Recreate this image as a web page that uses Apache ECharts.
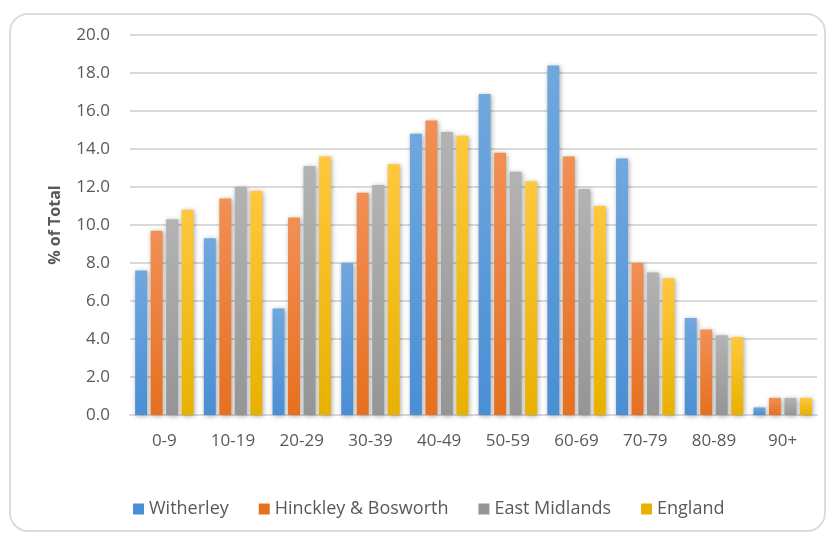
<!DOCTYPE html>
<html>
<head>
<meta charset="utf-8">
<style>
  html, body { margin: 0; padding: 0; background: #ffffff; }
  #chart { width: 826px; height: 533px; }
</style>
<script src="https://cdn.jsdelivr.net/npm/echarts@6/dist/echarts.min.js"></script>
</head>
<body>
<div id="chart"></div>
<script>
// Age bands and share of population (%) in each area
const ageBands = ['0-9', '10-19', '20-29', '30-39', '40-49', '50-59', '60-69', '70-79', '80-89', '90+'];
const witherley = [7.6, 9.3, 5.6, 8.0, 14.8, 16.9, 18.4, 13.5, 5.1, 0.4];
const hinckley = [9.7, 11.4, 10.4, 11.7, 15.5, 13.8, 13.6, 8.0, 4.5, 0.9];
const eastMidlands = [10.3, 12.0, 13.1, 12.1, 14.9, 12.8, 11.9, 7.5, 4.2, 0.9];
const england = [10.8, 11.8, 13.6, 13.2, 14.7, 12.3, 11.0, 7.2, 4.1, 0.9];

const seriesNames = ['Witherley', 'Hinckley & Bosworth', 'East Midlands', 'England'];
const seriesData = [witherley, hinckley, eastMidlands, england];
// top / bottom colours of each bar's vertical gradient
const palette = [
  ['#70A8DE', '#4A8ED5'],
  ['#F28F55', '#E6701F'],
  ['#B3B3B3', '#959595'],
  ['#FFC83D', '#E8B100']
];

const FONT = '"Open Sans", sans-serif';
const TEXT = '#595959';

const chart = echarts.init(document.getElementById('chart'), null, { renderer: 'canvas' });

chart.setOption({
  animation: false,
  backgroundColor: '#ffffff',
  graphic: [{
    type: 'rect',
    z: -10,
    silent: true,
    shape: { x: 10, y: 14, width: 815, height: 517, r: 18 },
    style: { fill: 'none', stroke: '#DCDCDC', lineWidth: 2 }
  }],
  grid: { left: 130, right: 9, top: 35, bottom: 118, containLabel: false },
  legend: {
    left: 128,
    top: 495,
    itemWidth: 11,
    itemHeight: 11,
    itemGap: 30,
    icon: 'rect',
    textStyle: { color: TEXT, fontFamily: FONT, fontSize: 18 },
    data: seriesNames.map((n, i) => ({ name: n, itemStyle: { color: palette[i][1], shadowBlur: 0 } }))
  },
  xAxis: {
    type: 'category',
    data: ageBands,
    axisLine: { lineStyle: { color: '#D9D9D9', width: 2 } },
    axisTick: { show: false },
    axisLabel: { color: TEXT, fontFamily: FONT, fontSize: 17, margin: 18 }
  },
  yAxis: {
    type: 'value',
    min: 0,
    max: 20,
    interval: 2,
    name: '% of Total',
    nameLocation: 'middle',
    nameGap: 67,
    nameTextStyle: { color: TEXT, fontFamily: FONT, fontSize: 16, fontWeight: 'bold' },
    axisLine: { show: false },
    axisTick: { show: false },
    axisLabel: {
      color: TEXT, fontFamily: FONT, fontSize: 17, margin: 20,
      formatter: v => v.toFixed(1)
    },
    splitLine: { lineStyle: { color: '#D9D9D9', width: 2 } }
  },
  series: seriesNames.map((name, i) => ({
    name,
    type: 'bar',
    data: seriesData[i],
    barGap: '30%',
    barCategoryGap: '15%',
    itemStyle: {
      color: new echarts.graphic.LinearGradient(0, 0, 0, 1, [
        { offset: 0, color: palette[i][0] },
        { offset: 1, color: palette[i][1] }
      ]),
      shadowBlur: 5,
      shadowColor: 'rgba(0,0,0,0.35)',
      shadowOffsetX: 1,
      shadowOffsetY: 1
    }
  }))
});
</script>
</body>
</html>
